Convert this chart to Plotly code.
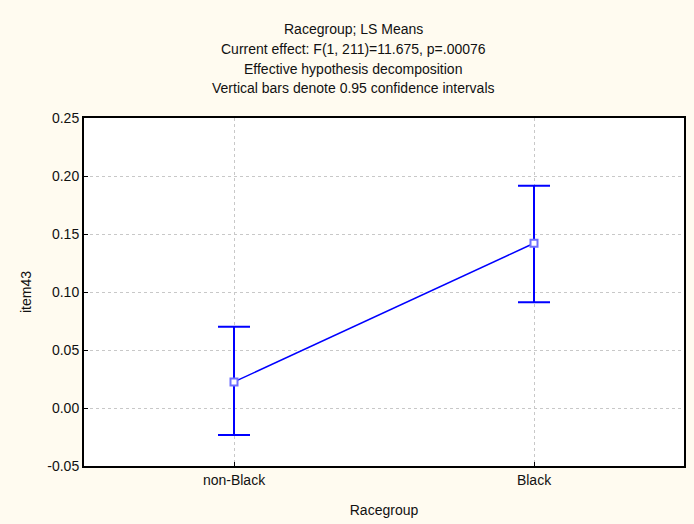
import plotly.graph_objects as go

categories = ["non-Black", "Black"]
means = [0.0225, 0.142]
ci_upper = [0.0701, 0.1916]
ci_lower = [-0.0233, 0.0911]
title_lines = [
    "Racegroup; LS Means",
    "Current effect: F(1, 211)=11.675, p=.00076",
    "Effective hypothesis decomposition",
    "Vertical bars denote 0.95 confidence intervals",
]
y_ticks = [-0.05, 0.00, 0.05, 0.10, 0.15, 0.20, 0.25]

err_plus = [u - m for u, m in zip(ci_upper, means)]
err_minus = [m - l for m, l in zip(means, ci_lower)]

fig = go.Figure()
fig.add_trace(go.Scatter(
    x=categories, y=means, mode="lines+markers",
    line=dict(color="#0000FF", width=1.5),
    marker=dict(symbol="square", size=7, color="#FFFFFF",
                line=dict(color="#7070FF", width=2)),
    error_y=dict(type="data", symmetric=False, array=err_plus, arrayminus=err_minus,
                 color="#0000FF", thickness=2, width=16),
    showlegend=False,
))

W, H = 694, 524
l, r, t, b = 84, 10, 118, 58
ph = H - t - b
pw = W - l - r
title_px = [29, 49, 69, 88]
annotations = []
for txt, py in zip(title_lines, title_px):
    annotations.append(dict(
        text=txt, x=(353 - l) / pw, xref="paper", y=(H - b - py) / ph, yref="paper",
        xanchor="center", yanchor="middle", showarrow=False,
        font=dict(size=14, color="#111111"),
    ))

fig.update_layout(
    width=W, height=H,
    margin=dict(l=l, r=r, t=t, b=b, autoexpand=False),
    paper_bgcolor="#FFFBF0",
    plot_bgcolor="#FFFFFF",
    font=dict(family="Liberation Sans, Arial, sans-serif", size=14, color="#111111"),
    annotations=annotations,
    xaxis=dict(
        type="category", range=[-0.5, 1.5], automargin=False,
        showline=True, linecolor="#000000", linewidth=2, mirror=True,
        showgrid=True, gridcolor="#C8C8C8", griddash="dot", gridwidth=1,
        ticks="inside", ticklen=4, tickcolor="#000000",
        tickfont=dict(size=14),
        title=dict(text="Racegroup", standoff=18, font=dict(size=14)),
        zeroline=False,
    ),
    yaxis=dict(
        range=[-0.05, 0.25], tickvals=y_ticks, automargin=False,
        ticktext=[f"{v:.2f}" for v in y_ticks],
        showline=True, linecolor="#000000", linewidth=2, mirror=True,
        showgrid=True, gridcolor="#C8C8C8", griddash="dot", gridwidth=1,
        ticks="inside", ticklen=4, tickcolor="#000000",
        tickfont=dict(size=14),
        title=dict(text="item43", standoff=12, font=dict(size=14)),
        zeroline=False,
    ),
)

fig.write_html("out.html", config={"displayModeBar": False},
               post_script="document.body.style.margin='0';document.body.style.background='#FFFBF0';")
